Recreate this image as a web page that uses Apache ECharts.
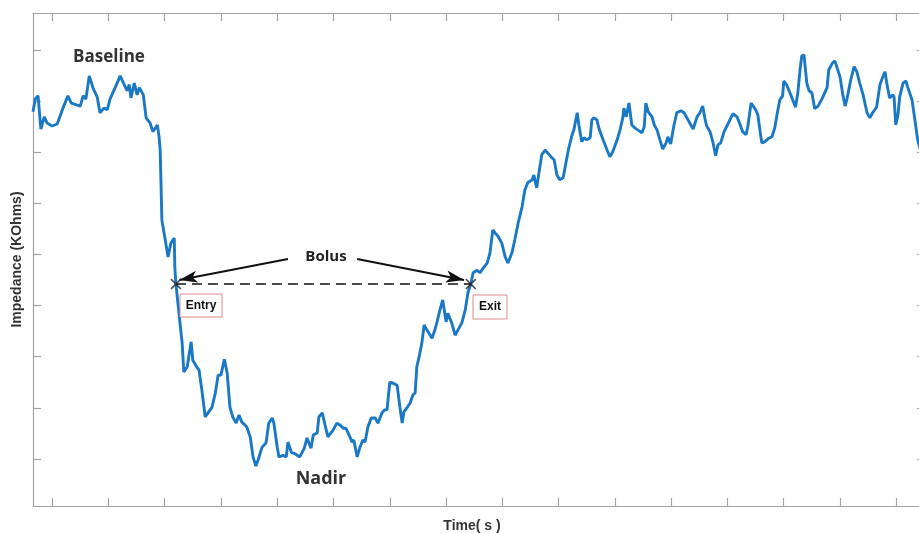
<!DOCTYPE html>
<html><head><meta charset="utf-8">
<script src="https://cdn.jsdelivr.net/npm/echarts@6/dist/echarts.min.js"></script>
<style>html,body{margin:0;padding:0;background:#fff}#c{width:919px;height:533px}</style>
</head><body><div id="c"></div>
<script>
// Time (s)
const times = [
0.66,0.70,0.75,0.80,0.86,0.91,1.00,1.09,1.20,1.28,
1.34,1.50,1.55,1.60,1.66,1.73,1.80,1.85,1.92,1.98,
2.03,2.12,2.21,2.26,2.33,2.37,2.40,2.46,2.51,2.55,
2.62,2.67,2.74,2.79,2.87,2.90,2.92,2.95,3.01,3.06,
3.11,3.17,3.18,3.20,3.26,3.31,3.34,3.40,3.47,3.50,
3.58,3.61,3.66,3.72,3.77,3.84,3.90,3.95,4.00,4.06,
4.11,4.16,4.21,4.27,4.32,4.37,4.43,4.46,4.52,4.57,
4.62,4.66,4.73,4.80,4.85,4.91,4.94,5.00,5.03,5.10,
5.16,5.19,5.25,5.30,5.40,5.48,5.53,5.60,5.64,5.71,
5.74,5.80,5.85,5.90,5.99,6.06,6.12,6.17,6.22,6.26,
6.33,6.36,6.42,6.47,6.52,6.56,6.61,6.67,6.74,6.79,
6.86,6.91,6.95,7.00,7.06,7.13,7.18,7.22,7.25,7.31,
7.36,7.41,7.45,7.48,7.52,7.57,7.61,7.66,7.75,7.80,
7.84,7.89,7.94,8.00,8.03,8.10,8.16,8.21,8.28,8.34,
8.39,8.44,8.48,8.55,8.60,8.66,8.73,8.78,8.83,8.87,
8.92,8.99,9.05,9.10,9.17,9.22,9.28,9.35,9.40,9.45,
9.53,9.56,9.61,9.65,9.70,9.76,9.81,9.88,9.92,9.97,
10.02,10.08,10.13,10.18,10.24,10.27,10.33,10.36,10.41,10.45,
10.50,10.56,10.59,10.63,10.68,10.72,10.79,10.86,10.91,10.96,
11.04,11.09,11.14,11.16,11.20,11.25,11.30,11.36,11.41,11.48,
11.52,11.55,11.59,11.66,11.70,11.75,11.80,11.85,11.91,11.94,
11.99,12.05,12.10,12.17,12.23,12.28,12.33,12.39,12.42,12.46,
12.51,12.56,12.60,12.63,12.69,12.74,12.79,12.83,12.88,12.94,
12.99,13.06,13.10,13.17,13.22,13.27,13.33,13.36,13.42,13.45,
13.50,13.54,13.58,13.61,13.66,13.72,13.79,13.84,13.88,13.93,
13.98,14.00,14.05,14.11,14.16,14.21,14.25,14.29,14.32,14.36,
14.41,14.45,14.50,14.55,14.61,14.68,14.71,14.77,14.80,14.87,
14.91,14.94,15.00,15.05,15.09,15.12,15.19,15.25,15.30,15.35,
15.41,15.48,15.53,15.58,15.65,15.71,15.76,15.80,15.83,15.88,
15.94,15.96,15.99,16.03,16.06,16.12,16.17,16.20,16.28,16.33,
16.38,16.43];

// Impedance (KOhms)
const impedance = [
7.79,8.04,8.10,7.45,7.69,7.57,7.51,7.55,7.88,8.10,
7.96,7.90,8.10,8.04,8.49,8.24,8.08,7.77,7.86,7.83,
8.04,8.26,8.49,8.37,8.20,8.32,8.06,8.35,8.12,8.26,
8.12,7.67,7.57,7.40,7.53,7.30,7.04,5.67,5.28,4.95,
5.22,5.32,4.75,4.42,3.78,3.27,2.70,2.80,3.29,2.93,
2.78,2.74,2.35,1.82,1.90,2.01,2.29,2.64,2.64,2.95,
2.68,2.01,1.82,1.70,1.86,1.72,1.66,1.62,1.43,1.04,
0.86,0.98,1.23,1.31,1.70,1.80,1.70,1.23,1.04,1.07,
1.04,1.33,1.13,1.11,1.04,1.21,1.41,1.21,1.47,1.51,
1.82,1.90,1.66,1.43,1.56,1.70,1.66,1.60,1.60,1.51,
1.33,1.37,1.04,1.23,1.37,1.33,1.62,1.80,1.80,1.70,
1.90,1.96,1.96,2.50,2.48,2.44,2.01,1.70,1.92,2.01,
2.09,2.25,2.29,2.80,2.99,3.27,3.62,3.52,3.36,3.52,
3.68,3.91,4.11,3.68,3.85,3.66,3.42,3.52,3.66,3.91,
4.26,4.42,4.64,4.69,4.64,4.73,4.83,5.03,5.48,5.42,
5.36,5.22,4.95,4.83,5.03,5.28,5.61,5.93,6.26,6.40,
6.46,6.55,6.30,6.59,6.95,7.04,6.98,6.89,6.85,6.55,
6.46,6.50,6.79,7.08,7.34,7.43,7.77,7.53,7.20,7.28,
7.24,7.28,7.63,7.67,7.63,7.45,7.24,7.04,6.91,7.00,
7.24,7.43,7.67,7.86,7.69,7.96,7.53,7.47,7.43,7.38,
7.49,7.96,7.79,7.69,7.53,7.43,7.24,7.06,7.18,7.30,
7.16,7.53,7.77,7.81,7.77,7.67,7.57,7.45,7.47,7.69,
7.77,7.90,7.65,7.51,7.40,7.20,6.93,7.14,7.18,7.40,
7.51,7.67,7.75,7.69,7.55,7.40,7.34,7.49,7.96,7.96,
7.83,7.73,7.40,7.18,7.20,7.26,7.30,7.47,7.73,8.02,
8.10,8.39,8.32,8.16,8.02,7.88,8.16,8.61,8.88,8.90,
8.35,8.20,8.16,7.85,7.90,8.04,8.04,8.26,8.61,8.75,
8.78,8.75,8.47,8.12,7.90,8.02,8.41,8.67,8.57,8.35,
8.12,7.77,7.67,7.77,7.88,8.32,8.47,8.57,8.35,8.06,
8.12,8.08,7.53,7.73,8.08,8.35,8.39,8.28,8.02,7.63,
7.24,7.04];

const xTicks = [1,2,3,4,5,6,7,8,9,10,11,12,13,14,15,16];
const yTicks = [1,2,3,4,5,6,7,8,9];
const entryIndex = 43;
const exitIndex = 141;

const xMin = 0.66, xMax = 16.51, yMin = 0.08, yMax = 9.72;
const axisGray = '#a3a3a3';

function axisBase(ticks) {
  return {
    type: 'value', min: 0, max: 1,
    axisLine: { show: true, lineStyle: { color: axisGray, width: 1.2 } },
    axisTick: { show: true, inside: true, length: 8, customValues: ticks, lineStyle: { color: axisGray, width: 1.2 } },
    axisLabel: { show: false, customValues: ticks },
    splitLine: { show: false }
  };
}
const xBottom = Object.assign(axisBase(xTicks), { min: xMin, max: xMax, position: 'bottom' });
const xTop = Object.assign(axisBase(xTicks), { min: xMin, max: xMax, position: 'top' });
const yLeft = Object.assign(axisBase(yTicks), { min: yMin, max: yMax, position: 'left',
  name: 'Impedance (KOhms)', nameLocation: 'middle', nameGap: 9,
  nameTextStyle: { fontFamily: 'Liberation Sans, Arial', fontWeight: 'bold', fontSize: 14, color: '#333' } });
const yRight = Object.assign(axisBase(yTicks), { min: yMin, max: yMax, position: 'right' });

const lineData = times.map((t, i) => [t, impedance[i]]);
const entry = [times[entryIndex], impedance[entryIndex]];
const exit = [times[exitIndex], impedance[exitIndex]];

const chart = echarts.init(document.getElementById('c'), null, { renderer: 'canvas' });
chart.setOption({
  animation: false,
  backgroundColor: '#fff',
  grid: { left: 33, top: 13, width: 892, height: 493, containLabel: false, outerBoundsMode: 'none' },
  xAxis: [xBottom, xTop],
  yAxis: [yLeft, yRight],
  series: [
    {
      type: 'line', data: lineData, symbol: 'none', smooth: false,
      lineStyle: { color: '#1a78c4', width: 2.9 },
      z: 3,
      markLine: {
        silent: true, animation: false,
        symbol: ['none', 'arrow'], symbolSize: [9, 18],
        label: { show: false },
        lineStyle: { color: '#111', width: 2, type: 'solid' },
        data: [
          [{ coord: [5.19, 4.91] }, { coord: [3.26, 4.50] }],
          [{ coord: [6.42, 4.91] }, { coord: [8.32, 4.50] }]
        ]
      }
    },
    {
      type: 'line', data: [entry, exit], symbol: 'none',
      lineStyle: { color: '#111', width: 1.6, type: [10, 6] }, z: 4
    },
    {
      type: 'scatter', data: [entry, exit], z: 5,
      symbol: 'path://M0,1 L1,0 L5,4 L9,0 L10,1 L6,5 L10,9 L9,10 L5,6 L1,10 L0,9 L4,5 Z',
      symbolSize: 11, itemStyle: { color: '#222' }
    }
  ],
  graphic: [
    { type: 'text', x: 472, y: 526, style: { text: 'Time( s )', align: 'center', verticalAlign: 'middle', font: 'bold 14px "Liberation Sans", Arial, sans-serif', fill: '#333' } },
    { type: 'text', x: 109, y: 57, style: { text: 'Baseline', align: 'center', verticalAlign: 'middle', font: 'bold 17px "Open Sans", sans-serif', fill: '#333' } },
    { type: 'text', x: 321, y: 479, style: { text: 'Nadir', align: 'center', verticalAlign: 'middle', font: 'bold 18px "Open Sans", sans-serif', fill: '#333' } },
    { type: 'text', x: 326, y: 257, style: { text: 'Bolus', align: 'center', verticalAlign: 'middle', font: 'bold 15px "Open Sans", sans-serif', fill: '#222' } },
    { type: 'rect', shape: { x: 180, y: 294, width: 42, height: 23 }, style: { fill: '#fff', stroke: '#e08a8a', lineWidth: 1 }, z: 10 },
    { type: 'text', x: 201, y: 306, style: { text: 'Entry', align: 'center', verticalAlign: 'middle', font: 'bold 12px "Liberation Sans", Arial, sans-serif', fill: '#111' }, z: 11 },
    { type: 'rect', shape: { x: 473, y: 295, width: 34, height: 24 }, style: { fill: '#fff', stroke: '#e08a8a', lineWidth: 1 }, z: 10 },
    { type: 'text', x: 490, y: 307, style: { text: 'Exit', align: 'center', verticalAlign: 'middle', font: 'bold 12px "Liberation Sans", Arial, sans-serif', fill: '#111' }, z: 11 }
  ]
});
</script>
</body></html>
